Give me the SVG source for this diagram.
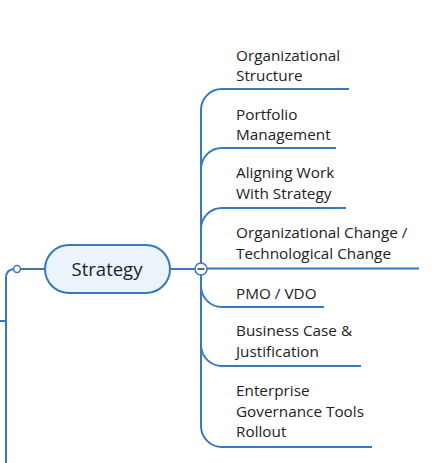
<svg xmlns="http://www.w3.org/2000/svg" width="434" height="463" viewBox="0 0 434 463">
<style>
.ln{fill:none;stroke:#3679C0;stroke-width:2;}
.t{font-family:"Open Sans","Noto Sans",sans-serif;font-size:15.3px;fill:#222;}
.main{font-family:"Open Sans","Noto Sans",sans-serif;font-size:18.5px;fill:#222;}
</style>
<rect width="434" height="463" fill="#fff"/>
<g id="connectors">
<path class="ln" d="M6 463 V278 Q6 269 15 269"/>
<path class="ln" d="M0 321 H6"/>
<path class="ln" d="M20 269 H45"/>
<path class="ln" d="M170 269 H195"/>
<path class="ln" d="M201 263 V110 A21 21 0 0 1 222 89 H349"/>
<path class="ln" d="M201 169 A21 21 0 0 1 222 148 H336"/>
<path class="ln" d="M201 229 A21 21 0 0 1 222 208 H346"/>
<path class="ln" d="M207 268.5 H419"/>
<path class="ln" d="M201 275 V426 A21 21 0 0 0 222 447 H372"/>
<path class="ln" d="M201 286 A21 21 0 0 0 222 307 H324"/>
<path class="ln" d="M201 345 A21 21 0 0 0 222 366 H361"/>
<circle cx="17" cy="269" r="3.5" fill="#fff" stroke="#3679C0" stroke-width="1.5"/>
<circle cx="201" cy="269" r="6" fill="#fff" stroke="#3679C0" stroke-width="1.5"/>
<path d="M197.5 269 H204.5" stroke="#333" stroke-width="1.5"/>
</g>
<g id="strategy">
<rect x="45" y="245" width="125" height="48" rx="24" fill="#EBF3FB" stroke="#3679C0" stroke-width="2"/>
<text class="main" x="107" y="276" text-anchor="middle">Strategy</text>
</g>
<g id="n1"><text class="t" x="236" y="60.5">Organizational</text><text class="t" x="236" y="81">Structure</text></g>
<g id="n2"><text class="t" x="236" y="119.5">Portfolio</text><text class="t" x="236" y="140">Management</text></g>
<g id="n3"><text class="t" x="236" y="178">Aligning Work</text><text class="t" x="236" y="198.5">With Strategy</text></g>
<g id="n4"><text class="t" x="236" y="238">Organizational Change /</text><text class="t" x="236" y="258.5">Technological Change</text></g>
<g id="n5"><text class="t" x="236" y="298.5">PMO / VDO</text></g>
<g id="n6"><text class="t" x="236" y="336">Business Case &amp;</text><text class="t" x="236" y="356.5">Justification</text></g>
<g id="n7"><text class="t" x="236" y="396">Enterprise</text><text class="t" x="236" y="416.5">Governance Tools</text><text class="t" x="236" y="437">Rollout</text></g>
</svg>
